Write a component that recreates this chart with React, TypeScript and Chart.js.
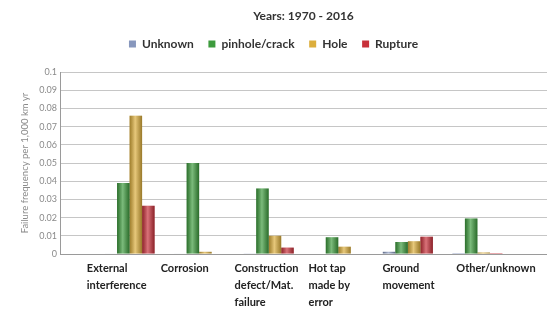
import React, { useEffect, useRef } from 'react';
import { Chart, registerables } from 'chart.js';

Chart.register(...registerables);

const chartTitle = 'Years: 1970 - 2016';
const yAxisTitle = 'Failure frequency per 1,000 km yr';
const categories: string[][] = [
  ['External', 'interference'],
  ['Corrosion'],
  ['Construction', 'defect/Mat.', 'failure'],
  ['Hot tap', 'made by', 'error'],
  ['Ground', 'movement'],
  ['Other/unknown'],
];
const seriesNames = ['Unknown', 'pinhole/crack', 'Hole', 'Rupture'];
const seriesColors = ['#8797bd', '#3d9b3d', '#dcae3c', '#c8303a'];
const unknownValues = [0.0003, 0.0003, 0.0002, 0, 0.0012, 0.0005];
const pinholeValues = [0.039, 0.05, 0.036, 0.0092, 0.0066, 0.0195];
const holeValues = [0.076, 0.0012, 0.01, 0.004, 0.007, 0.0008];
const ruptureValues = [0.0265, 0, 0.0035, 0, 0.0095, 0.0005];
const yMin = 0;
const yMax = 0.1;
const yStep = 0.01;

const FONT = 'Lato, "Open Sans", sans-serif';

const pad = (arr: number[]) => [null, ...arr, null];
const slotLabels = ['', ...categories.map((c) => c.join(' ')), ''];

const shadePlugin = {
  id: 'barShade',
  afterDatasetsDraw(chart: any) {
    const ctx = chart.ctx;
    chart.data.datasets.forEach((_ds: any, di: number) => {
      const meta = chart.getDatasetMeta(di);
      meta.data.forEach((el: any) => {
        const { x, y, base, width } = el.getProps(['x', 'y', 'base', 'width'], true);
        if (!(base - y > 0.5) || !isFinite(x)) return;
        const l = x - width / 2;
        const g = ctx.createLinearGradient(l, 0, l + width, 0);
        g.addColorStop(0, 'rgba(0,0,0,0.28)');
        g.addColorStop(0.45, 'rgba(255,255,255,0.32)');
        g.addColorStop(1, 'rgba(0,0,0,0.3)');
        ctx.save();
        ctx.fillStyle = g;
        ctx.fillRect(l, y, width, base - y);
        ctx.restore();
      });
    });
  },
};

const legendSpacePlugin = {
  id: 'legendSpace',
  beforeLayout(chart: any) {
    const lg = chart.legend;
    if (lg && !lg._patched) {
      const f = lg.fit.bind(lg);
      lg.fit = () => {
        f();
        lg.height += 12;
      };
      lg._patched = true;
    }
  },
};

export default function App() {
  const ref = useRef<HTMLCanvasElement>(null);
  useEffect(() => {
    if (!ref.current) return;
    const values = [unknownValues, pinholeValues, holeValues, ruptureValues];
    const chart = new Chart(ref.current, {
      type: 'bar',
      data: {
        labels: slotLabels,
        datasets: seriesNames.map((name, i) => ({
          label: name,
          data: pad(values[i]) as any,
          backgroundColor: seriesColors[i],
          borderWidth: 0,
          barPercentage: 1,
          categoryPercentage: 0.72,
        })),
      },
      options: {
        animation: false,
        responsive: false,
        devicePixelRatio: 1,
        layout: { padding: 0 },
        plugins: {
          title: {
            display: true,
            text: chartTitle,
            fullSize: false,
            color: '#333',
            font: { family: FONT, size: 12, weight: 'bold' },
            padding: { top: 9, bottom: 0 },
          },
          legend: {
            display: true,
            position: 'top',
            labels: {
              boxWidth: 7,
              boxHeight: 7,
              padding: 14.6,
              color: '#333',
              font: { family: FONT, size: 12, weight: 'bold' },
            },
          },
          tooltip: { enabled: false },
        },
        scales: {
          x: {
            type: 'category',
            offset: false,
            weight: 0,
            grid: { display: false, drawTicks: false },
            border: { display: true, color: '#9a9a9a' },
            ticks: { display: false },
          },
          x2: {
            type: 'linear',
            position: 'bottom',
            weight: 1,
            offset: false,
            bounds: 'data',
            min: -0.3627,
            max: 6.227,
            grid: { display: false, drawTicks: false, offset: false },
            border: { display: false },
            afterBuildTicks: (s: any) => {
              s.ticks = categories.map((_c, i) => ({ value: i }));
            },
            afterFit: (s: any) => {
              s.height = 57;
            },
            ticks: {
              autoSkip: false,
              maxRotation: 0,
              minRotation: 0,
              align: 'start',
              padding: 5.5,
              color: '#222',
              font: { family: FONT, size: 11, weight: 'bold', lineHeight: 1.55 },
              callback: (v: any) => categories[Math.round(Number(v))] || '',
            },
          },
          y: {
            type: 'linear',
            min: yMin,
            max: yMax,
            afterFit: (s: any) => {
              s.width = 60;
            },
            grid: { color: '#c6c6c6', drawTicks: false },
            border: { display: true, color: '#9a9a9a' },
            ticks: {
              stepSize: yStep,
              padding: 3,
              color: '#8a8a8a',
              font: { family: FONT, size: 9 },
              callback: (v: any) => String(Number(Number(v).toFixed(2))),
            },
            title: {
              display: true,
              text: yAxisTitle,
              color: '#8a8a8a',
              font: { family: FONT, size: 9.5 },
              padding: { top: 19, bottom: 0 },
            },
          },
        },
      } as any,
      plugins: [shadePlugin, legendSpacePlugin],
    });
    return () => chart.destroy();
  }, []);
  return (
    <div style={{ position: 'fixed', left: 0, top: 0, width: 547, height: 311, background: '#fff' }}>
      <canvas ref={ref} width={547} height={311} />
    </div>
  );
}
